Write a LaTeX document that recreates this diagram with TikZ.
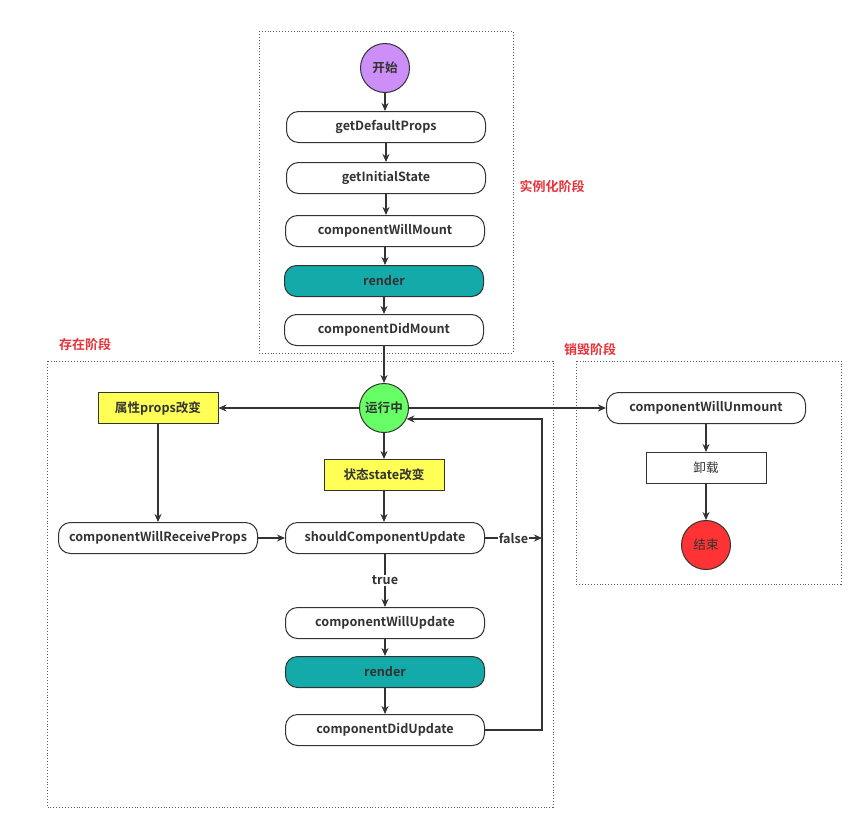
\documentclass[tikz,border=0pt]{standalone}
\usepackage{fontspec}
\setmainfont{Noto Sans CJK SC}[BoldFont={Noto Sans CJK SC Bold}]
\usetikzlibrary{arrows.meta}
\definecolor{ln}{HTML}{333333}
\definecolor{purp}{HTML}{CC8FF8}
\definecolor{teal2}{HTML}{13AAA9}
\definecolor{grn}{HTML}{66FF66}
\definecolor{yel}{HTML}{FFFF55}
\definecolor{redc}{HTML}{FF3333}
\definecolor{redt}{HTML}{E8323A}
\begin{document}
\begin{tikzpicture}[x=1pt,y=-1pt,
  pill/.style={draw=ln, line width=1pt, rounded corners=12pt, minimum width=199pt, minimum height=31pt, fill=white, font=\fontsize{12.6}{14}\selectfont\bfseries, text=ln, inner sep=0pt},
  rbox/.style={pill, fill=teal2},
  ybox/.style={draw=ln, line width=1pt, minimum width=120pt, minimum height=31pt, fill=yel, font=\fontsize{12.6}{14}\selectfont\bfseries, text=ln, inner sep=0pt},
  wbox/.style={ybox, fill=white, font=\fontsize{12.6}{14}\selectfont},
  circ/.style={circle, draw=ln, line width=1pt, minimum size=49pt, inner sep=0pt, font=\fontsize{12.6}{14}\selectfont\bfseries, text=ln},
  phase/.style={draw=ln!80, dotted, line width=0.9pt},
  plabel/.style={text=redt, font=\fontsize{13}{15}\selectfont\bfseries},
  arr/.style={draw=ln, line width=1.1pt, -{Stealth[length=8pt,width=7pt]}},
  lbl/.style={fill=white, text=ln, font=\fontsize{12.6}{14}\selectfont\bfseries, inner sep=1pt}
]
\useasboundingbox (0,0) rectangle (862,830);
% phase frames
\draw[phase] (259,31) rectangle (513,353);
\draw[phase] (47,361) rectangle (553,807);
\draw[phase] (576,361) rectangle (841,584);
\node[plabel] (lInst) at (552,187) {实例化阶段};
\node[plabel] (lExist) at (85,345) {存在阶段};
\node[plabel] (lDest) at (590,350) {销毁阶段};
% instantiation
\node[circ, fill=purp] (start) at (385,68) {开始};
\node[pill] (gdp) at (386,127) {getDefaultProps};
\node[pill] (gis) at (386,178) {getInitialState};
\node[pill] (cwm) at (385,231) {componentWillMount};
\node[rbox] (r1) at (384,281) {render};
\node[pill] (cdm) at (384,330) {componentDidMount};
% existence
\node[circ, fill=grn] (run) at (384,408) {运行中};
\node[ybox] (props) at (158,408) {属性props改变};
\node[ybox] (state) at (384,475) {状态state改变};
\node[pill] (cwrp) at (158,538) {componentWillReceiveProps};
\node[pill] (scu) at (385,538) {shouldComponentUpdate};
\node[pill] (cwup) at (385,623) {componentWillUpdate};
\node[rbox] (r2) at (385,672) {render};
\node[pill] (cdu) at (385,730) {componentDidUpdate};
\coordinate (fx) at (542,538);
% destruction
\node[pill] (cwun) at (706,408) {componentWillUnmount};
\node[wbox] (unload) at (706,468) {卸载};
\node[circ, fill=redc, font=\fontsize{12.6}{14}\selectfont] (end) at (706,545) {结束};
% connectors
\draw[arr] (start) -- (start |- gdp.north);
\draw[arr] (gdp) -- (gis);
\draw[arr] (gis.south) -- (gis.south |- cwm.north);
\draw[arr] (cwm) -- (cwm |- r1.north);
\draw[arr] (r1) -- (cdm);
\draw[arr] (cdm) -- (run);
\draw[arr] (run) -- (props);
\draw[arr] (run) -- (state);
\draw[arr] (run) -- (cwun);
\draw[arr] (props) -- (cwrp);
\draw[arr] (cwrp) -- (scu);
\draw[arr] (state) -- (state |- scu.north);
\draw[arr] (scu) -- node[lbl] {true} (cwup);
\draw[arr] (cwup) -- (r2);
\draw[arr] (r2) -- (cdu);
\draw[arr] (scu) -- node[lbl] {false} (fx);
\draw[arr] (cdu.east) -| (fx) |- (run.-26);
\draw[arr] (cwun) -- (unload);
\draw[arr] (unload) -- (end);
\end{tikzpicture}
\end{document}
